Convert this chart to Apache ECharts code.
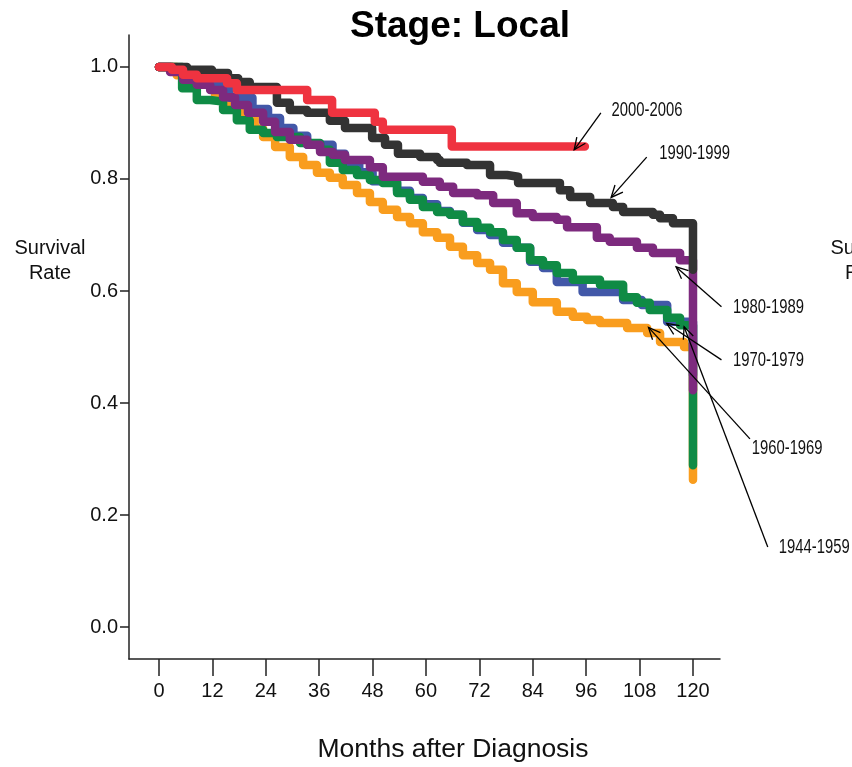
<!DOCTYPE html>
<html><head><meta charset="utf-8">
<script src="https://cdn.jsdelivr.net/npm/echarts@6/dist/echarts.min.js"></script>
<style>html,body{margin:0;padding:0;background:#fff}#c{width:852px;height:767px}</style>
</head><body><div id="c"></div>
<script>
// ---- DATA ----
const xTicks = [0, 12, 24, 36, 48, 60, 72, 84, 96, 108, 120];
const yTicks = [0, 0.2, 0.4, 0.6, 0.8, 1.0];
const seriesNames = ['1944-1959', '1970-1979', '1960-1969', '1980-1989', '1990-1999', '2000-2006'];
const s1944 = [[0,1],[4,0.985],[8.5,0.968],[12.6,0.95],[16,0.93],[18.7,0.914],[21.5,0.89],[23.4,0.875],[26.1,0.857],[29.4,0.839],[32.4,0.825],[35.5,0.811],[38.4,0.802],[41.3,0.789],[44.5,0.775],[47.4,0.759],[50.3,0.745],[53.5,0.732],[56.4,0.721],[59.3,0.705],[62.5,0.695],[65.4,0.679],[68.3,0.664],[71.5,0.65],[74.4,0.638],[77.3,0.614],[80.4,0.598],[84,0.58],[89.4,0.563],[93,0.554],[96.2,0.548],[99.1,0.543],[105.2,0.534],[109.7,0.525],[112.6,0.509],[118,0.5],[120,0.263]];
const s1970 = [[0,1],[3,0.993],[7,0.982],[12.6,0.971],[15.8,0.945],[21,0.925],[24.5,0.909],[27.2,0.891],[30.2,0.877],[33.3,0.861],[39,0.845],[41.8,0.829],[45,0.812],[48,0.796],[53.5,0.779],[56.4,0.766],[59.3,0.755],[62.5,0.743],[65.4,0.736],[68.3,0.722],[71.5,0.709],[74.4,0.7],[77.3,0.686],[80.4,0.677],[83.4,0.652],[86.3,0.641],[89.4,0.616],[95.2,0.598],[104.3,0.584],[108.5,0.575],[114.2,0.545],[120,0.45]];
const s1960 = [[0,1],[5.2,0.962],[8.5,0.941],[11.5,0.938],[14.4,0.923],[17.5,0.905],[20.4,0.888],[23.4,0.882],[26.5,0.875],[31.7,0.864],[36.2,0.852],[38.4,0.829],[41.3,0.816],[44.5,0.807],[47.4,0.798],[50.3,0.793],[53.5,0.775],[56.4,0.763],[59.3,0.75],[62.5,0.741],[65.4,0.736],[68.3,0.723],[71.5,0.713],[74.4,0.705],[77.3,0.691],[80.4,0.677],[83.4,0.655],[86.3,0.646],[89.4,0.632],[93,0.62],[99.1,0.611],[104.3,0.589],[107.4,0.579],[110.3,0.566],[114.2,0.552],[117.1,0.539],[120,0.289]];
const s1980 = [[0,1],[2.5,0.991],[5.4,0.977],[8.5,0.968],[11.5,0.959],[14.4,0.946],[17.1,0.932],[20,0.918],[23.4,0.902],[26.1,0.884],[29.4,0.87],[33.3,0.861],[36.2,0.848],[39.1,0.843],[41.8,0.834],[47.4,0.821],[50.3,0.804],[59.3,0.795],[63.1,0.786],[66.1,0.775],[71.5,0.771],[75.1,0.757],[80.4,0.739],[84,0.732],[89.4,0.727],[91.7,0.714],[98.4,0.695],[101.3,0.688],[107.4,0.677],[111,0.668],[117.1,0.655],[120,0.423]];
const s1990 = [[0,1],[6.3,0.995],[11.9,0.989],[15.5,0.98],[17.8,0.973],[20.4,0.964],[26.5,0.936],[29.4,0.923],[33.3,0.918],[38.4,0.904],[41.8,0.891],[47.9,0.873],[50.8,0.861],[53.7,0.845],[58.7,0.839],[62.5,0.834],[63.1,0.829],[69.2,0.825],[74.4,0.807],[78.2,0.804],[80.7,0.793],[90.1,0.78],[92.4,0.768],[96.9,0.757],[102,0.75],[104.3,0.741],[111,0.736],[112.6,0.73],[115.5,0.721],[120,0.638]];
const s2000 = [[0,1],[2.9,0.995],[5.4,0.986],[8.5,0.98],[15.3,0.971],[17.5,0.959],[33.3,0.941],[38.9,0.918],[48.5,0.902],[50.3,0.888],[65.8,0.858],[95.7,0.858]];
const seriesColors = ['#F99D1E', '#4258A8', '#0F8B45', '#7D2A7E', '#333333', '#EF3340'];
// annotation: label, text anchor [month, rate], arrow tail, arrow tip
const annLabels = ['2000-2006', '1990-1999', '1980-1989', '1970-1979', '1960-1969', '1944-1959'];
const annText = [[101.7,0.922],[112.4,0.845],[129,0.570],[129,0.475],[133.2,0.318],[139.3,0.141]];
const annTail = [[99.3,0.918],[109.6,0.839],[126.4,0.572],[126.4,0.477],[132.8,0.336],[136.8,0.143]];
const annTip = [[93.3,0.852],[101.6,0.767],[116.2,0.643],[114.1,0.542],[110,0.535],[118,0.536]];

const allData = [s1944, s1970, s1960, s1980, s1990, s2000];

const chart = echarts.init(document.getElementById('c'), null, {renderer: 'canvas'});
const FONT = 'Liberation Sans, Arial, sans-serif';
const axisCol = '#222';

const option = {
  animation: false,
  backgroundColor: '#fff',
  grid: {left: 129, top: 35, width: 591, height: 624, containLabel: false},
  xAxis: {
    type: 'value', min: -6.74, max: 126.07,
    axisLine: {show: true, onZero: false, lineStyle: {color: axisCol, width: 1.5}},
    axisTick: {show: true, customValues: xTicks, length: 17, lineStyle: {color: axisCol, width: 1.5}},
    axisLabel: {customValues: xTicks, margin: 22, fontSize: 20, color: '#111', fontFamily: FONT},
    splitLine: {show: false}
  },
  yAxis: {
    type: 'value', min: -0.057, max: 1.057,
    axisLine: {show: true, onZero: false, lineStyle: {color: axisCol, width: 1.5}},
    axisTick: {show: true, customValues: yTicks, length: 9, lineStyle: {color: axisCol, width: 1.5}},
    axisLabel: {customValues: yTicks, margin: 11, fontSize: 20, color: '#111', fontFamily: FONT,
      formatter: v => v.toFixed(1)},
    splitLine: {show: false}
  },
  series: allData.map((d, i) => ({
    name: seriesNames[i], type: 'line', step: 'end', data: d,
    showSymbol: false, symbol: 'none', clip: false,
    lineStyle: {color: seriesColors[i], width: 8.5, cap: 'round', join: 'round'},
    z: 2 + i
  })),
  graphic: [
    {type: 'text', style: {text: 'Stage: Local', font: 'bold 37px ' + FONT, fill: '#000', x: 460, y: 27, align: 'center', verticalAlign: 'middle'}},
    {type: 'text', style: {text: 'Survival\nRate', font: '20px ' + FONT, fill: '#111', x: 50, y: 261, align: 'center', verticalAlign: 'middle', lineHeight: 25}},
    {type: 'text', style: {text: 'Survival\nRate', font: '20px ' + FONT, fill: '#111', x: 866, y: 261, align: 'center', verticalAlign: 'middle', lineHeight: 25}},
    {type: 'text', style: {text: 'Months after Diagnosis', font: '26.5px ' + FONT, fill: '#111', x: 453, y: 750, align: 'center', verticalAlign: 'middle'}}
  ]
};
chart.setOption(option);

// annotations with arrows placed through the axes' scales
const extra = [];
annLabels.forEach((lab, i) => {
  const t = chart.convertToPixel({gridIndex: 0}, annText[i]);
  const a = chart.convertToPixel({gridIndex: 0}, annTail[i]);
  const b = chart.convertToPixel({gridIndex: 0}, annTip[i]);
  extra.push({type: 'text', x: t[0], y: t[1], scaleX: 0.76, z: 50,
    style: {text: lab, font: '19.5px ' + FONT, fill: '#111', x: 0, y: 0, align: 'left', verticalAlign: 'middle'}});
  extra.push({type: 'line', z: 50, shape: {x1: a[0], y1: a[1], x2: b[0], y2: b[1]}, style: {stroke: '#000', lineWidth: 1.3}});
  const ang = Math.atan2(a[1] - b[1], a[0] - b[0]);
  const L = 13, sp = 0.42;
  const p1 = [b[0] + L * Math.cos(ang + sp), b[1] + L * Math.sin(ang + sp)];
  const p2 = [b[0] + L * Math.cos(ang - sp), b[1] + L * Math.sin(ang - sp)];
  extra.push({type: 'polyline', z: 50, shape: {points: [p1, b, p2]}, style: {stroke: '#000', lineWidth: 1.3, fill: null}});
});
chart.setOption({graphic: option.graphic.concat(extra)});
</script></body></html>
